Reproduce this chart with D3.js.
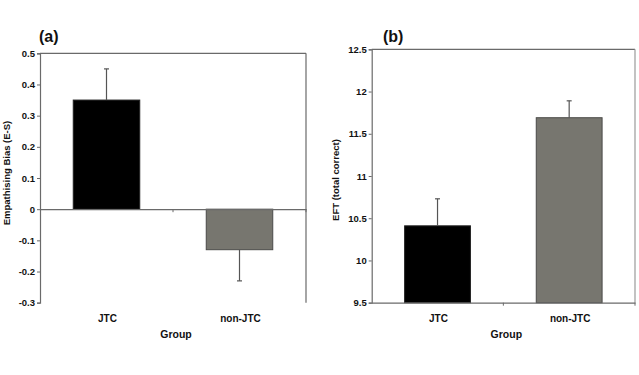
<!DOCTYPE html>
<html><head><meta charset="utf-8">
<script src="https://cdn.jsdelivr.net/npm/d3@7"></script>
<style>body{margin:0;background:#fff}svg{display:block}text{font-family:Arial,"Liberation Sans",sans-serif;font-weight:bold;fill:#111}</style>
</head><body>
<svg id="c" width="639" height="375"></svg>
<script>
const categories = ["JTC", "non-JTC"];
const biasValues = [0.35, -0.13];
const biasErrors = [0.10, 0.10];
const biasTicks = [0.5, 0.4, 0.3, 0.2, 0.1, 0, -0.1, -0.2, -0.3];
const eftValues = [10.41, 11.69];
const eftErrors = [0.32, 0.20];
const eftTicks = [12.5, 12, 11.5, 11, 10.5, 10, 9.5];
const barColors = ["#000000", "#77766f"];
const barStrokes = ["#222", "#4a4a48"];

const svg = d3.select("#c");
const axisCol = "#6a6a6a";

function panel(opt) {
  const g = svg.append("g");
  const x = d3.scaleBand().domain(categories).range([opt.x0, opt.x1]).paddingInner(0.5).paddingOuter(0.25);
  const xb = d3.scaleBand().domain(categories).range([opt.x0, opt.x1]).padding(0);
  const y = d3.scaleLinear().domain(opt.domain).range([opt.y1, opt.y0]);
  const base = opt.base;
  g.append("line").attr("x1", opt.x0).attr("x2", opt.x1).attr("y1", opt.y0).attr("y2", opt.y0).attr("stroke", axisCol).attr("stroke-width", 1.2);
  g.append("line").attr("x1", opt.x1).attr("x2", opt.x1).attr("y1", opt.y0).attr("y2", opt.y1).attr("stroke", opt.rightCol).attr("stroke-width", 1.2);
  categories.forEach((c, i) => {
    const v = opt.values[i];
    g.append("rect").attr("x", x(c)).attr("width", x.bandwidth())
      .attr("y", y(Math.max(v, base))).attr("height", Math.abs(y(v) - y(base)))
      .attr("fill", barColors[i]).attr("stroke", barStrokes[i]).attr("stroke-width", 1);
    const e = v >= base ? v + opt.errors[i] : v - opt.errors[i];
    const cx = x(c) + x.bandwidth() / 2;
    g.append("line").attr("x1", cx).attr("x2", cx).attr("y1", y(v)).attr("y2", y(e)).attr("stroke", "#555").attr("stroke-width", 1.2);
    g.append("line").attr("x1", cx - 2.5).attr("x2", cx + 2.5).attr("y1", y(e)).attr("y2", y(e)).attr("stroke", "#555").attr("stroke-width", 1.2);
  });
  const ya = g.append("g").attr("transform", `translate(${opt.x0},0)`)
    .call(d3.axisLeft(y).tickValues(opt.ticks).tickSize(3).tickPadding(2).tickFormat(d => String(d)));
  ya.select(".domain").attr("stroke", axisCol).attr("stroke-width", 1.2);
  ya.selectAll(".tick line").attr("stroke", axisCol);
  ya.selectAll(".tick text").attr("font-size", 9.5).attr("fill", "#111");
  const xa = g.append("g").attr("transform", `translate(0,${y(base)})`)
    .call(d3.axisBottom(xb).tickSize(0).tickFormat(""));
  xa.select(".domain").attr("stroke", axisCol).attr("stroke-width", 1.2);
  [xb(categories[1]), opt.x1].forEach(t => {
    g.append("line").attr("x1", t).attr("x2", t).attr("y1", y(base)).attr("y2", y(base) + 3).attr("stroke", axisCol);
  });
  categories.forEach(c => {
    g.append("text").attr("x", xb(c) + xb.bandwidth() / 2 + 1).attr("y", 321.5)
      .attr("text-anchor", "middle").attr("font-size", 10).text(c);
  });
  g.append("text").attr("x", (opt.x0 + opt.x1) / 2 + 3).attr("y", 338).attr("text-anchor", "middle").attr("font-size", 10.5).text("Group");
  g.append("text").attr("transform", `translate(${opt.titleX},${opt.titleY}) rotate(-90)`)
    .attr("text-anchor", "middle").attr("font-size", opt.titleSize).text(opt.title);
  g.append("text").attr("x", opt.labelX).attr("y", 41.5).attr("font-size", 16).text(opt.label);
}

panel({x0: 40, x1: 306, y0: 53.3, y1: 302.7, domain: [-0.3, 0.5], base: 0,
  values: biasValues, errors: biasErrors, ticks: biasTicks, rightCol: axisCol,
  title: "Empathising Bias (E-S)", titleX: 9.5, titleY: 173, titleSize: 9.5, label: "(a)", labelX: 39});
panel({x0: 371.7, x1: 635, y0: 49.3, y1: 302.7, domain: [9.5, 12.5], base: 9.5,
  values: eftValues, errors: eftErrors, ticks: eftTicks, rightCol: "#9a9a9a",
  title: "EFT (total correct)", titleX: 338.5, titleY: 180, titleSize: 9.5, label: "(b)", labelX: 383});
</script>
</body></html>
